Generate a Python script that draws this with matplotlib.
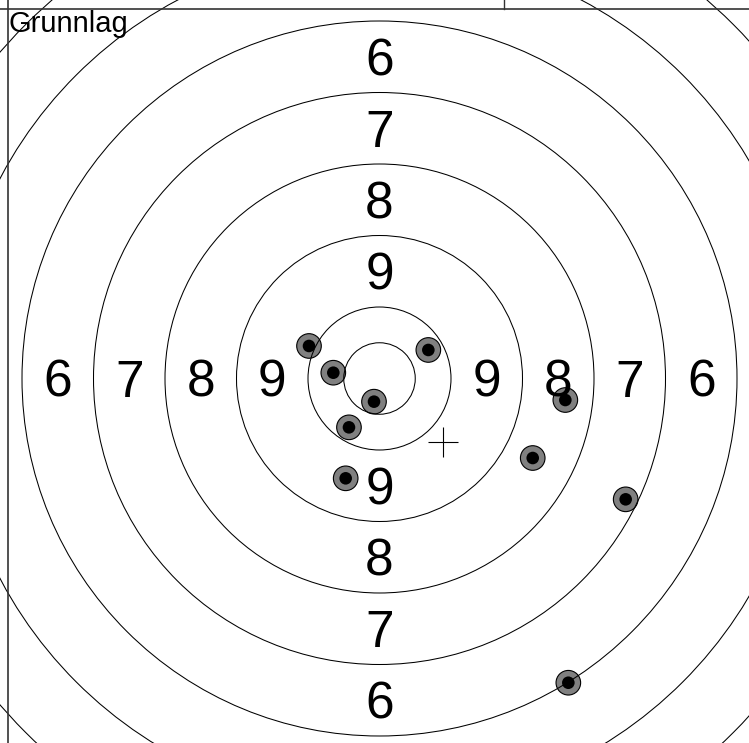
import matplotlib
matplotlib.use("Agg")
import matplotlib.pyplot as plt
from matplotlib.patches import Circle
from matplotlib.lines import Line2D
import numpy as np

plt.rcParams['font.family'] = ['Liberation Sans', 'DejaVu Sans']

# target geometry in ring widths
ring_radii = [0.5, 1, 2, 3, 4, 5, 6, 7]
ring_labels = [9, 8, 7, 6]
label_radii = [1.5, 2.5, 3.5, 4.5]

# shots (ring-width units, centre = 0,0)
shot_x = [-0.986, -0.646, 0.683, -0.077, -0.427, -0.473, 2.599, 2.143, 3.443, 2.641]
shot_y = [0.455, 0.081, 0.399, -0.324, -0.683, -1.396, -0.301, -1.112, -1.690, -4.255]

title = "Grunnlag"

W, H = 749, 743
px = 71.5  # pixels per ring width
cx, cy = 379.5, 378.5

fig = plt.figure(figsize=(W / 100, H / 100), dpi=100)
ax = fig.add_axes([0, 0, 1, 1])
ax.set_xlim(-cx / px, (W - cx) / px)
ax.set_ylim(-(H - cy) / px, cy / px)
ax.set_aspect('equal')
ax.axis('off')

for r in ring_radii:
    ax.add_patch(Circle((0, 0), r, fill=False, ec='black', lw=0.75, zorder=3))

# digits drawn on baseline, shifted by half the cap height so the glyph is centred
half_cap = 18.4 / px
for lab, r in zip(ring_labels, label_radii):
    for dx, dy in [(-1, 0), (1, 0), (0, 1), (0, -1)]:
        ax.text(dx * r, dy * r - half_cap, str(lab), fontsize=37,
                ha='center', va='baseline', zorder=4)

for x, y in zip(shot_x, shot_y):
    ax.add_patch(Circle((x, y), 0.172, fc='#808080', ec='black', lw=0.8, zorder=2))
    ax.add_patch(Circle((x, y), 0.088, fc='black', ec='none', zorder=2))

# mean point of impact
ax.plot(np.mean(shot_x), np.mean(shot_y), marker='+', ms=22, mew=0.8, color='black', zorder=5)

# frame lines
lc = '#333333'
fig.add_artist(Line2D([0, 1], [1 - 8.7 / H, 1 - 8.7 / H], color=lc, lw=1.2))
fig.add_artist(Line2D([8.3 / W, 8.3 / W], [0, 1], color=lc, lw=1.2))
fig.add_artist(Line2D([503.7 / W, 503.7 / W], [1 - 8.7 / H, 1], color=lc, lw=1.0))

fig.text(8.5 / W, 1 - 10 / H, title, fontsize=21, ha='left', va='top')

fig.savefig("out.png", dpi=100)
